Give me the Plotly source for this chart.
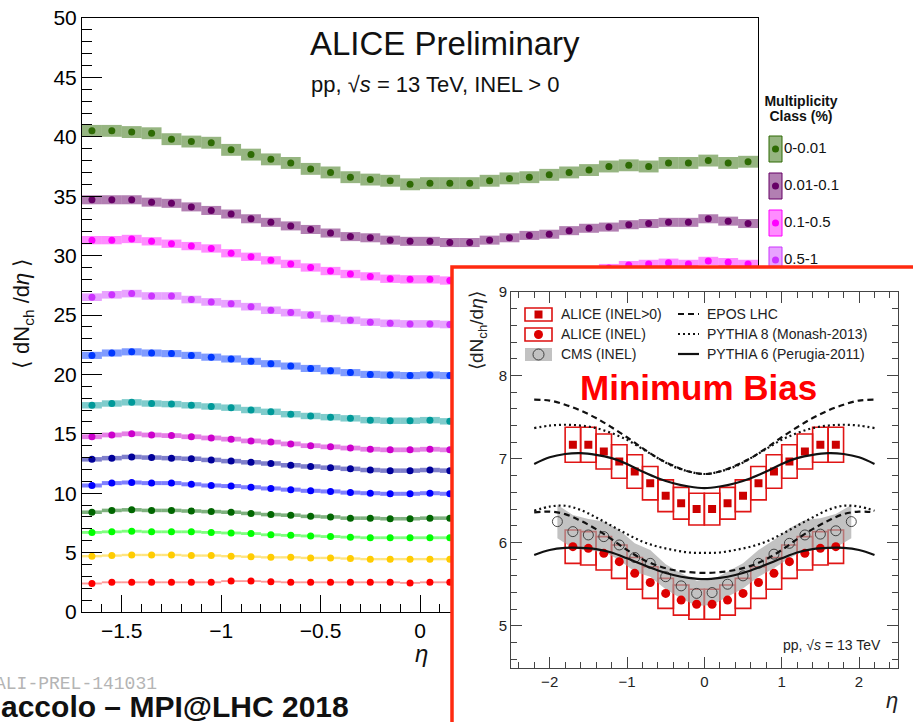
import plotly.graph_objects as go

W, H = 913, 722
FONT = "Liberation Sans, Arial, Helvetica, sans-serif"


def px(x):
    return x / W


def py(y):
    return 1 - y / H


# ---------------- main panel data ----------------
eta_main = [-1.65, -1.55, -1.45, -1.35, -1.25, -1.15, -1.05, -0.95, -0.85, -0.75,
            -0.65, -0.55, -0.45, -0.35, -0.25, -0.15, -0.05, 0.05, 0.15, 0.25,
            0.35, 0.45, 0.55, 0.65, 0.75, 0.85, 0.95, 1.05, 1.15, 1.25,
            1.35, 1.45, 1.55, 1.65]

classes = ["0-0.01", "0.01-0.1", "0.1-0.5", "0.5-1", "1-5", "5-10", "10-15",
           "15-20", "20-30", "30-40", "40-50", "50-70", "70-100"]

v_0_001 = [40.5, 40.5, 40.4, 40.3, 39.8, 39.6, 39.5, 38.9, 38.5, 38.1, 37.8, 37.3, 37.0,
           36.6, 36.4, 36.3, 36.0, 36.1, 36.1, 36.1, 36.3, 36.5, 36.6, 36.8, 37.0, 37.2,
           37.5, 37.6, 37.5, 37.8, 37.8, 38.0, 37.8, 37.9]
v_001_01 = [34.7, 34.7, 34.7, 34.5, 34.4, 34.1, 33.8, 33.5, 33.1, 32.8, 32.5, 32.2, 31.9,
            31.6, 31.5, 31.3, 31.2, 31.2, 31.1, 31.1, 31.3, 31.5, 31.7, 31.8, 32.1, 32.3,
            32.4, 32.6, 32.7, 32.8, 32.8, 33.1, 32.9, 32.7]
v_01_05 = [31.3, 31.3, 31.4, 31.2, 31.0, 30.8, 30.6, 30.2, 29.9, 29.6, 29.3, 29.0, 28.7,
           28.45, 28.25, 28.05, 28.0, 28.0, 27.9, 27.9, 28.0, 28.1, 28.25, 28.4, 28.6,
           28.75, 28.95, 29.2, 29.3, 29.4, 29.3, 29.55, 29.45, 29.3]
v_05_1 = [26.5, 26.7, 26.8, 26.6, 26.6, 26.3, 26.1, 25.95, 25.7, 25.4, 25.2, 25.0, 24.7,
          24.55, 24.4, 24.3, 24.25, 24.25, 24.2]
v_1_5 = [21.6, 21.8, 21.9, 21.8, 21.75, 21.6, 21.45, 21.3, 21.1, 20.9, 20.7, 20.5, 20.3,
         20.15, 20.0, 19.95, 19.9, 19.95, 19.9]
v_5_10 = [17.4, 17.55, 17.65, 17.55, 17.5, 17.4, 17.3, 17.2, 17.0, 16.85, 16.65, 16.5,
          16.4, 16.3, 16.15, 16.1, 16.1, 16.15, 16.05]
v_10_15 = [14.75, 14.9, 15.0, 14.9, 14.85, 14.75, 14.65, 14.55, 14.4, 14.3, 14.15, 14.0,
           13.9, 13.8, 13.7, 13.65, 13.65, 13.7, 13.65]
v_15_20 = [12.85, 12.95, 13.05, 13.0, 12.95, 12.9, 12.8, 12.7, 12.6, 12.5, 12.35, 12.25,
           12.15, 12.05, 11.95, 11.9, 11.9, 11.95, 11.9]
v_20_30 = [10.65, 10.85, 10.9, 10.85, 10.85, 10.75, 10.65, 10.6, 10.5, 10.4, 10.3, 10.2,
           10.15, 10.05, 10.0, 9.95, 9.95, 10.0, 9.95]
v_30_40 = [8.4, 8.55, 8.6, 8.55, 8.55, 8.5, 8.45, 8.4, 8.3, 8.2, 8.15, 8.05, 8.0, 7.9,
           7.9, 7.85, 7.85, 7.9, 7.9]
v_40_50 = [6.7, 6.75, 6.8, 6.75, 6.75, 6.75, 6.7, 6.65, 6.6, 6.5, 6.45, 6.4, 6.35, 6.3,
           6.25, 6.25, 6.25, 6.25, 6.25]
v_50_70 = [4.7, 4.75, 4.8, 4.8, 4.8, 4.75, 4.75, 4.7, 4.65, 4.6, 4.6, 4.55, 4.55, 4.5,
           4.45, 4.45, 4.45, 4.45, 4.45]
v_70_100 = [2.4, 2.5, 2.5, 2.5, 2.5, 2.5, 2.5, 2.6, 2.6, 2.55, 2.5, 2.5, 2.5, 2.5, 2.5,
            2.5, 2.45, 2.5, 2.5]

syst_main = [0.5, 0.38, 0.35, 0.32, 0.3, 0.27, 0.2, 0.19, 0.17, 0.15, 0.12, 0.1, 0.08]

marker_colors = ["#2e6b04", "#660066", "#ff00ff", "#cc33ff", "#0038ff", "#009999",
                 "#cc00cc", "#000099", "#0000ff", "#006600", "#00ff00", "#ffcc00",
                 "#ff0000"]
box_colors = ["rgba(46,107,4,0.5)", "rgba(102,0,102,0.5)", "rgba(255,0,255,0.45)",
              "rgba(204,51,255,0.45)", "rgba(0,56,255,0.5)", "rgba(0,153,153,0.5)",
              "rgba(204,0,204,0.5)", "rgba(0,0,153,0.5)", "rgba(0,0,255,0.5)",
              "rgba(0,102,0,0.5)", "rgba(0,255,0,0.5)", "rgba(255,204,0,0.5)",
              "rgba(255,0,0,0.4)"]

main_values = [v_0_001, v_001_01, v_01_05, v_05_1, v_1_5, v_5_10, v_10_15, v_15_20,
               v_20_30, v_30_40, v_40_50, v_50_70, v_70_100]

# ---------------- inset (minimum bias) data ----------------
eta_alice = [-1.7, -1.5, -1.3, -1.1, -0.9, -0.7, -0.5, -0.3, -0.1,
             0.1, 0.3, 0.5, 0.7, 0.9, 1.1, 1.3, 1.5, 1.7]
alice_inel_gt0 = [7.17, 7.17, 7.09, 6.97, 6.85, 6.71, 6.56, 6.47, 6.40,
                  6.40, 6.47, 6.56, 6.71, 6.85, 6.97, 7.09, 7.17, 7.17]
alice_inel_gt0_syst = [0.21, 0.21, 0.21, 0.2, 0.2, 0.2, 0.19, 0.19, 0.19,
                       0.19, 0.19, 0.19, 0.2, 0.2, 0.2, 0.21, 0.21, 0.21]
alice_inel = [5.95, 5.93, 5.87, 5.77, 5.63, 5.52, 5.39, 5.31, 5.26,
              5.26, 5.31, 5.39, 5.52, 5.63, 5.77, 5.87, 5.93, 5.95]
alice_inel_syst = [0.2, 0.2, 0.2, 0.2, 0.19, 0.19, 0.18, 0.18, 0.18,
                   0.18, 0.18, 0.18, 0.19, 0.19, 0.2, 0.2, 0.2, 0.2]

eta_cms = [-1.9, -1.7, -1.5, -1.3, -1.1, -0.9, -0.7, -0.5, -0.3, -0.1,
           0.1, 0.3, 0.5, 0.7, 0.9, 1.1, 1.3, 1.5, 1.7, 1.9]
cms_inel = [6.25, 6.13, 6.09, 6.07, 5.97, 5.82, 5.75, 5.59, 5.48, 5.39,
            5.40, 5.50, 5.60, 5.75, 5.86, 5.99, 6.09, 6.10, 6.14, 6.25]
cms_syst = [0.2, 0.2, 0.19, 0.18, 0.18, 0.17, 0.16, 0.15, 0.15, 0.15,
            0.15, 0.15, 0.15, 0.16, 0.17, 0.18, 0.18, 0.19, 0.2, 0.2]

eta_model = [-2.2, -2.0, -1.8, -1.6, -1.4, -1.2, -1.0, -0.8, -0.6, -0.4, -0.2, 0.0,
             0.2, 0.4, 0.6, 0.8, 1.0, 1.2, 1.4, 1.6, 1.8, 2.0, 2.2]
epos_gt0 = [7.71, 7.70, 7.65, 7.58, 7.49, 7.38, 7.26, 7.13, 7.01, 6.92, 6.85, 6.82,
            6.85, 6.92, 7.01, 7.13, 7.26, 7.38, 7.49, 7.58, 7.65, 7.70, 7.71]
pythia8_gt0 = [7.37, 7.40, 7.41, 7.40, 7.37, 7.31, 7.23, 7.12, 7.01, 6.91, 6.85, 6.82,
               6.85, 6.91, 7.01, 7.12, 7.23, 7.31, 7.37, 7.40, 7.41, 7.40, 7.37]
pythia6_gt0 = [6.94, 7.02, 7.06, 7.07, 7.05, 7.01, 6.94, 6.85, 6.77, 6.71, 6.67, 6.65,
               6.67, 6.71, 6.77, 6.85, 6.94, 7.01, 7.05, 7.07, 7.06, 7.02, 6.94]
epos_inel = [6.36, 6.37, 6.34, 6.26, 6.16, 6.04, 5.91, 5.80, 5.72, 5.67, 5.645, 5.635,
             5.645, 5.67, 5.72, 5.80, 5.91, 6.04, 6.16, 6.26, 6.34, 6.37, 6.36]
pythia8_inel = [6.38, 6.43, 6.44, 6.39, 6.30, 6.20, 6.10, 6.01, 5.95, 5.91, 5.88, 5.875,
                5.88, 5.91, 5.95, 6.01, 6.10, 6.20, 6.30, 6.39, 6.44, 6.43, 6.38]
pythia6_inel = [5.85, 5.91, 5.935, 5.935, 5.92, 5.88, 5.81, 5.735, 5.665, 5.61, 5.575, 5.56,
                5.575, 5.61, 5.665, 5.735, 5.81, 5.88, 5.92, 5.935, 5.935, 5.91, 5.85]

fig = go.Figure()

# ---------------- main panel traces ----------------
for name, vals, err, mc, bc in zip(classes, main_values, syst_main, marker_colors, box_colors):
    xs = eta_main[:len(vals)]
    fig.add_trace(go.Bar(
        x=xs, y=[2 * err] * len(vals), base=[v - err for v in vals], width=0.1,
        marker=dict(color=bc, line=dict(width=0)), showlegend=False,
        hoverinfo="skip", xaxis="x", yaxis="y"))
    fig.add_trace(go.Scatter(
        x=xs, y=vals, mode="markers", name=name,
        marker=dict(symbol="circle", size=7, color=mc), showlegend=False,
        xaxis="x", yaxis="y"))

# ---------------- main legend (its own subplot, partly hidden by inset) ----------------
leg_y = [149, 186, 223, 260]
shapes = []
for i in range(4):
    yc = leg_y[i]
    shapes.append(dict(type="rect", xref="x2", yref="y2", layer="below",
                       x0=769, x1=782, y0=yc - 13, y1=yc + 13,
                       fillcolor=box_colors[i], line=dict(color=marker_colors[i], width=1)))
fig.add_trace(go.Scatter(
    x=[775.5] * 4, y=leg_y, mode="markers",
    marker=dict(size=7, color=marker_colors[:4]), showlegend=False,
    hoverinfo="skip", xaxis="x2", yaxis="y2"))
fig.add_trace(go.Scatter(
    x=[784] * 4, y=leg_y, mode="text", text=classes[:4], textposition="middle right",
    textfont=dict(family=FONT, size=15, color="#111"), showlegend=False,
    hoverinfo="skip", xaxis="x2", yaxis="y2"))
fig.add_trace(go.Scatter(
    x=[801, 801], y=[102, 117], mode="text",
    text=["<b>Multiplicity</b>", "<b>Class (%)</b>"], textposition="middle center",
    textfont=dict(family=FONT, size=14, color="#111"), showlegend=False,
    hoverinfo="skip", xaxis="x2", yaxis="y2"))

# ---------------- cover subplot (white background of inset frame) ----------------
fig.add_trace(go.Scatter(x=[0], y=[0], mode="markers", marker=dict(opacity=0),
                         showlegend=False, hoverinfo="skip", xaxis="x3", yaxis="y3"))

# ---------------- inset traces ----------------
band_x = eta_cms + eta_cms[::-1]
band_y = [v + e for v, e in zip(cms_inel, cms_syst)] + \
         [v - e for v, e in zip(cms_inel[::-1], cms_syst[::-1])]
fig.add_trace(go.Scatter(x=band_x, y=band_y, fill="toself", fillcolor="rgba(165,165,165,0.68)",
                         mode="lines", line=dict(width=0), showlegend=False,
                         hoverinfo="skip", xaxis="x4", yaxis="y4"))
fig.add_trace(go.Scatter(x=eta_cms, y=cms_inel, mode="markers",
                         marker=dict(symbol="circle-open", size=10, color="#333",
                                     line=dict(width=0.9)),
                         showlegend=False, xaxis="x4", yaxis="y4"))

for vals, errs in ((alice_inel_gt0, alice_inel_gt0_syst), (alice_inel, alice_inel_syst)):
    fig.add_trace(go.Bar(
        x=eta_alice, y=[2 * e for e in errs], base=[v - e for v, e in zip(vals, errs)],
        width=0.2, marker=dict(color="rgba(0,0,0,0)", line=dict(color="#e01515", width=1.6)),
        showlegend=False, hoverinfo="skip", xaxis="x4", yaxis="y4"))

fig.add_trace(go.Scatter(x=eta_alice, y=alice_inel_gt0, mode="markers",
                         marker=dict(symbol="square", size=8, color="#cc0000"),
                         showlegend=False, xaxis="x4", yaxis="y4"))
fig.add_trace(go.Scatter(x=eta_alice, y=alice_inel, mode="markers",
                         marker=dict(symbol="circle", size=9, color="#dd0000"),
                         showlegend=False, xaxis="x4", yaxis="y4"))

for vals, dash in ((epos_gt0, "6px,4px"), (pythia8_gt0, "2px,3px"), (pythia6_gt0, "solid"),
                   (epos_inel, "6px,4px"), (pythia8_inel, "2px,3px"), (pythia6_inel, "solid")):
    fig.add_trace(go.Scatter(x=eta_model, y=vals, mode="lines",
                             line=dict(color="#111", width=2.2, dash=dash, shape="spline"),
                             showlegend=False, hoverinfo="skip", xaxis="x4", yaxis="y4"))

# ---------------- inset frame and legend glyphs (on top) ----------------
shapes.append(dict(type="rect", xref="paper", yref="paper", layer="above",
                   x0=px(452), x1=px(930), y0=py(740), y1=py(267),
                   line=dict(color="#ff2a10", width=3.5), fillcolor="rgba(0,0,0,0)"))
red_box = dict(color="#dd1111", width=1.6)
for (y0, y1) in ((308, 321), (328, 341)):
    shapes.append(dict(type="rect", xref="paper", yref="paper", layer="above",
                       x0=px(525), x1=px(552), y0=py(y1), y1=py(y0), line=red_box))
shapes.append(dict(type="rect", xref="paper", yref="paper", layer="above",
                   x0=px(534.5), x1=px(542.5), y0=py(318.5), y1=py(310.5),
                   fillcolor="#cc0000", line=dict(width=0)))
shapes.append(dict(type="circle", xref="paper", yref="paper", layer="above",
                   x0=px(534), x1=px(543), y0=py(339), y1=py(330),
                   fillcolor="#dd0000", line=dict(width=0)))
shapes.append(dict(type="rect", xref="paper", yref="paper", layer="above",
                   x0=px(525), x1=px(552), y0=py(361), y1=py(348),
                   fillcolor="rgba(165,165,165,0.68)", line=dict(width=0)))
shapes.append(dict(type="circle", xref="paper", yref="paper", layer="above",
                   x0=px(533), x1=px(544), y0=py(360), y1=py(349),
                   line=dict(color="#333", width=0.9)))
for yc, dash in ((314, "6px,4px"), (334, "2px,3px"), (354, "solid")):
    shapes.append(dict(type="line", xref="paper", yref="paper", layer="above",
                       x0=px(678), x1=px(699), y0=py(yc), y1=py(yc),
                       line=dict(color="#111", width=2.2, dash=dash)))

# ---------------- annotations ----------------
ann = []


def txt(x, y, s, size, xanchor="left", color="#111", angle=0, family=FONT, yanchor="middle"):
    ann.append(dict(x=px(x), y=py(y), xref="paper", yref="paper", text=s, showarrow=False,
                    xanchor=xanchor, yanchor=yanchor, textangle=angle,
                    font=dict(family=family, size=size, color=color)))


txt(308, 44, "ALICE Preliminary", 33)
txt(309, 84, "pp, √<i>s</i> = 13 TeV, INEL > 0", 22)
txt(23, 314, "⟨ dN<sub>ch</sub> /d<i>η</i> ⟩", 22, xanchor="center", angle=-90)
txt(421, 653, "<i>η</i>", 24, xanchor="center")
txt(-7, 684, "ALI-PREL-141031", 18, color="#b4b4b4", family="Liberation Mono, Courier New, monospace")
txt(-1, 706, "<b>accolo – MPI@LHC 2018</b>", 30)

txt(559, 314, "ALICE (INEL>0)", 14, color="#222")
txt(559, 334, "ALICE (INEL)", 14, color="#222")
txt(559, 354, "CMS (INEL)", 14, color="#222")
txt(705, 314, "EPOS LHC", 14, color="#222")
txt(705, 334, "PYTHIA 8 (Monash-2013)", 14, color="#222")
txt(705, 354, "PYTHIA 6 (Perugia-2011)", 14, color="#222")
txt(698, 387, "<b>Minimum Bias</b>", 35, xanchor="center", color="#ff0000")
txt(883, 645, "pp, √<i>s</i> = 13 TeV", 14, xanchor="right", color="#222")
txt(478, 330, "⟨dN<sub>ch</sub>/d<i>η</i>⟩", 19, xanchor="center", angle=-90, color="#222")
txt(892, 700, "<i>η</i>", 22, xanchor="center", color="#222")

hidden = dict(visible=False, fixedrange=True, automargin=False)
main_axis = dict(showline=True, linecolor="black", linewidth=1, mirror=True, ticks="inside",
                 tickcolor="black", showgrid=False, zeroline=False, automargin=False,
                 tickfont=dict(family=FONT, size=21, color="black"))
inset_axis = dict(showline=True, linecolor="#444", linewidth=1, mirror="ticks", ticks="inside",
                  tickcolor="#444", showgrid=False, zeroline=False, ticklen=11, automargin=False,
                  tickfont=dict(family=FONT, size=15, color="#222"))

fig.update_layout(
    width=W, height=H, margin=dict(l=0, r=0, t=0, b=0, pad=0, autoexpand=False),
    paper_bgcolor="white", plot_bgcolor="white", barmode="overlay", showlegend=False,
    xaxis=dict(domain=[px(82), px(758)], range=[-1.7, 1.7], tick0=0, dtick=0.5, ticklen=17,
               minor=dict(dtick=0.1, ticklen=8, ticks="inside", tickcolor="black"),
               anchor="y", **main_axis),
    yaxis=dict(domain=[py(612), py(18)], range=[0, 50], tick0=0, dtick=5, ticklen=20,
               minor=dict(dtick=1, ticklen=10, ticks="inside", tickcolor="black"),
               anchor="x", **main_axis),
    xaxis2=dict(domain=[px(761), 1], range=[761, 913], anchor="y2", **hidden),
    yaxis2=dict(domain=[py(300), py(80)], range=[300, 80], anchor="x2", **hidden),
    xaxis3=dict(domain=[px(452), 1], range=[0, 1], anchor="y3", **hidden),
    yaxis3=dict(domain=[0, py(267)], range=[0, 1], anchor="x3", **hidden),
    xaxis4=dict(domain=[px(511), px(897.7)], range=[-2.5, 2.5], tick0=0, dtick=1,
                minor=dict(dtick=0.2, ticklen=6, ticks="inside", tickcolor="#444"),
                anchor="y4", **inset_axis),
    yaxis4=dict(domain=[py(667.7), py(292)], range=[4.5, 9], tick0=0, dtick=1,
                minor=dict(dtick=0.2, ticklen=6, ticks="inside", tickcolor="#444"),
                anchor="x4", **inset_axis),
    shapes=shapes, annotations=ann,
)

fig.write_html("out.html", config={"displayModeBar": False},
               post_script="document.body.style.margin='0';document.body.style.overflow='hidden';")
